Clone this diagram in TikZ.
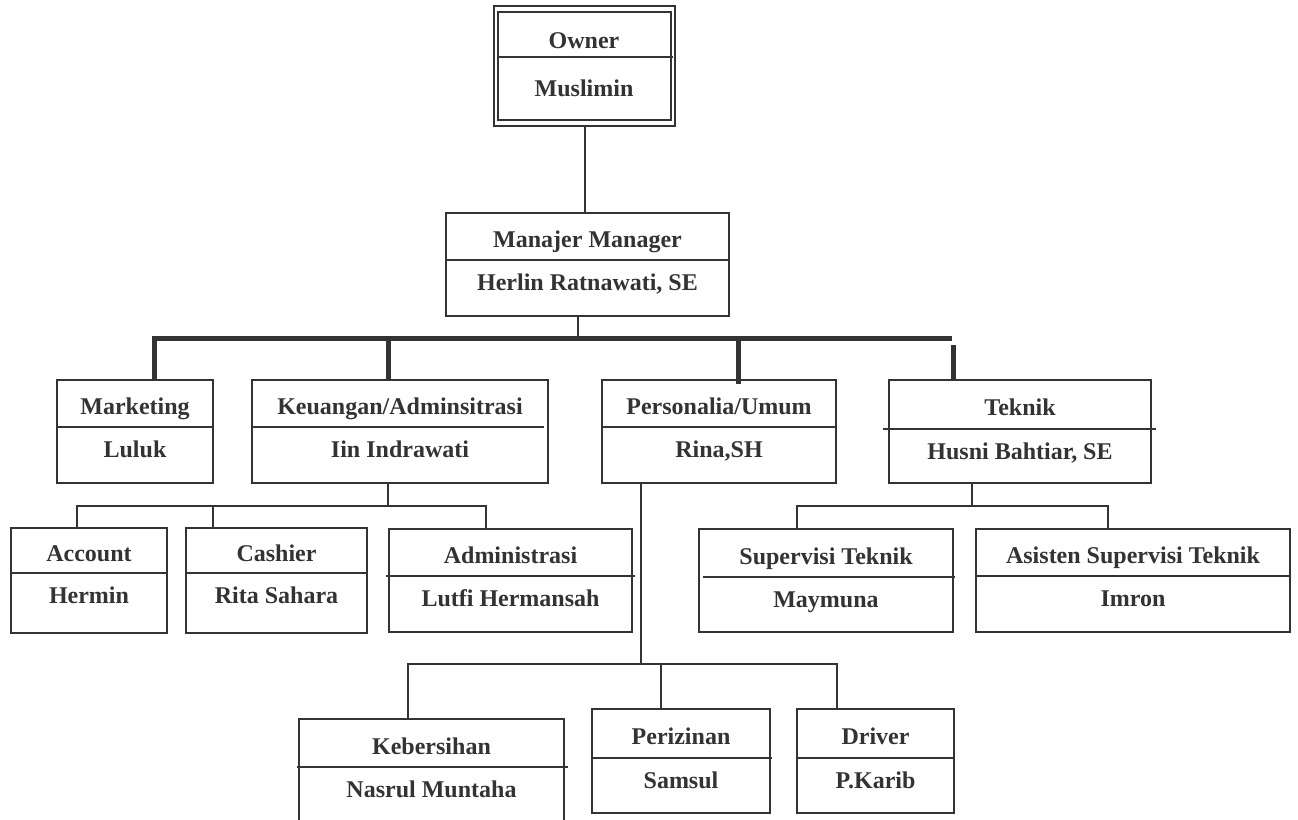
\documentclass[tikz,border=0pt]{standalone}
\usepackage{fontspec}
\setmainfont{Liberation Serif}
\definecolor{ink}{HTML}{333333}
\tikzset{
  line/.style={draw=ink, line width=2pt},
  busline/.style={draw=ink, line width=5pt},
  box/.style={draw=ink, line width=2pt, rectangle, inner sep=0pt, outer sep=0pt},
  lbl/.style={text=ink, font=\bfseries\fontsize{24}{28}\selectfont, inner sep=0pt,
              text height=16pt, text depth=0pt, anchor=center},
}
% #1 divider overhang l/r, #2 name, #3 x1, #4 y1, #5 x2, #6 y2, #7 divider y, #8 title, #9 person
\newcommand{\orgbox}[9][0/0]{%
  \node[box, minimum width={#5-#3}, minimum height={#6-#4}, anchor=north west] (#2) at (#3,#4) {};
  \foreach \l/\r in {#1}{\draw[line] ({#3-(\l)},#7) -- ({#5+(\r)},#7);}
  \node[lbl] (#2-t) at ({(#3+#5)/2},{(#4+#7)/2+3}) {#8};
  \node[lbl] (#2-p) at ({(#3+#5)/2},{#7+22}) {#9};
}
\begin{document}
\begin{tikzpicture}[x=1pt,y=-1pt]
\useasboundingbox (0,0) rectangle (1298,819);
\clip (0,0) rectangle (1298,819);
\fill[white] (0,0) rectangle (1298,819);

% Owner (double border)
\node[box, minimum width=181, minimum height=120, anchor=north west] (owner) at (494,6) {};
\node[box, minimum width=173, minimum height=108, anchor=north west] (owner-in) at (498,12) {};
\draw[line] (498,57) -- (673,57);
\node[lbl] (owner-t) at (584,40) {Owner};
\node[lbl] (owner-p) at (584,88) {Muslimin};

% Boxes
\orgbox{mgr}{446}{213}{729}{316}{260}{Manajer Manager}{Herlin Ratnawati, SE}
\orgbox{mkt}{57}{380}{213}{483}{427}{Marketing}{Luluk}
\orgbox[0/-4]{keu}{252}{380}{548}{483}{427}{Keuangan/Adminsitrasi}{Iin Indrawati}
\orgbox{per}{602}{380}{836}{483}{427}{Personalia/Umum}{Rina,SH}
\orgbox[6/5]{tek}{889}{380}{1151}{483}{429}{Teknik}{Husni Bahtiar, SE}
\orgbox{acc}{11}{528}{167}{633}{573}{Account}{Hermin}
\orgbox{cas}{186}{528}{367}{633}{573}{Cashier}{Rita Sahara}
\orgbox[3/3]{adm}{389}{529}{632}{632}{576}{Administrasi}{Lutfi Hermansah}
\orgbox[-4/2]{sup}{699}{529}{953}{632}{577}{Supervisi Teknik}{Maymuna}
\orgbox{ast}{976}{529}{1290}{632}{576}{Asisten Supervisi Teknik}{Imron}
\orgbox[2/4]{keb}{299}{719}{564}{840}{767}{Kebersihan}{Nasrul Muntaha}
\orgbox[1/2]{izn}{592}{709}{770}{813}{758}{Perizinan}{Samsul}
\orgbox{drv}{797}{709}{954}{813}{758}{Driver}{P.Karib}

% Owner -> Manager
\draw[line] (owner.south) -- (owner.south |- mgr.north);

% Manager -> bus
\coordinate (m1) at (578,338);
\coordinate (busL) at (154,338);
\coordinate (busR) at (952,338);
\draw[line] (m1 |- mgr.south) -- (m1);
\draw[busline] (busL |- mkt.north) -- (busL) -- (busR);
\coordinate (b2) at (388,338);
\draw[busline] (b2) -- (b2 |- keu.north);
\coordinate (b3) at (738,338);
\draw[busline] (b3) -- ([yshift=-4pt]b3 |- per.north);
\coordinate (b4) at (953,345);
\draw[busline] (b4) -- (b4 |- tek.north);

% Keuangan group
\coordinate (kj) at (388,506);
\coordinate (ka) at (77,506);
\coordinate (kc) at (213,506);
\coordinate (kd) at (486,506);
\draw[line] (kj |- keu.south) -- (kj);
\draw[line] (ka |- acc.north) -- (ka) -- (kd) -- (kd |- adm.north);
\draw[line] (kc) -- (kc |- cas.north);

% Teknik group
\coordinate (tj) at (972,506);
\coordinate (ts) at (797,506);
\coordinate (ta) at (1108,506);
\draw[line] (tj |- tek.south) -- (tj);
\draw[line] (ts |- sup.north) -- (ts) -- (ta) -- (ta |- ast.north);

% Personalia group
\coordinate (pj) at (641,664);
\coordinate (pk) at (408,664);
\coordinate (pz) at (661,664);
\coordinate (pd) at (837,664);
\draw[line] (pj |- per.south) -- (pj);
\draw[line] (pk |- keb.north) -- (pk) -- (pd) -- (pd |- drv.north);
\draw[line] (pz) -- (pz |- izn.north);
\end{tikzpicture}
\end{document}
